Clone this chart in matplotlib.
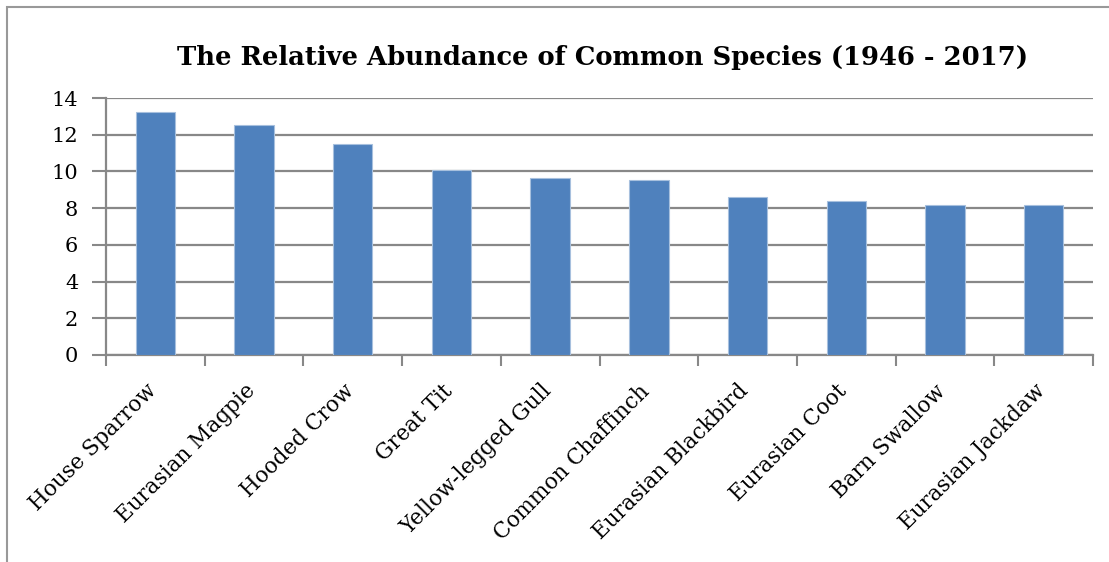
import matplotlib.pyplot as plt
import matplotlib.transforms as mtransforms
from matplotlib.patches import Rectangle

# species and relative abundance
species = ['House Sparrow', 'Eurasian Magpie', 'Hooded Crow', 'Great Tit',
           'Yellow-legged Gull', 'Common Chaffinch', 'Eurasian Blackbird',
           'Eurasian Coot', 'Barn Swallow', 'Eurasian Jackdaw']
abundance = [13.22, 12.53, 11.47, 10.08, 9.66, 9.53, 8.61, 8.39, 8.17, 8.15]
yticks = [0, 2, 4, 6, 8, 10, 12, 14]

plt.rcParams['font.family'] = ['DejaVu Serif']

fig = plt.figure(figsize=(11.09, 5.62), dpi=100)
ax = fig.add_axes([106/1109, 1 - 355/562, (1093 - 106)/1109, (355 - 98)/562])

grey = '#888888'
x = range(len(species))
ax.bar(x, abundance, width=0.4, color='#4F81BD', edgecolor='#A7C0DE',
       linewidth=0.8, zorder=3)

ax.set_xlim(-0.5, len(species) - 0.5)
ax.set_ylim(0, 14)
ax.set_yticks(yticks)
ax.tick_params(axis='y', labelsize=15, length=10, width=1.5, color=grey,
               pad=10, direction='out')
ax.grid(axis='y', color=grey, linewidth=1.6, zorder=0)

# ticks between categories, labels at the bar centres
ax.set_xticks([i - 0.5 for i in range(len(species) + 1)])
ax.set_xticklabels([])
ax.set_xticks(list(x), minor=True)
ax.set_xticklabels(species, minor=True, rotation=45, ha='right',
                   rotation_mode='anchor', fontsize=15.5)
ax.tick_params(axis='x', which='minor', length=0, pad=18)
ax.tick_params(axis='x', which='major', length=8, width=1.5, color=grey)

# nudge the slanted labels a little to the left
shift = mtransforms.ScaledTranslation(-0.1, 0, fig.dpi_scale_trans)
for lbl in ax.get_xticklabels(minor=True):
    lbl.set_transform(lbl.get_transform() + shift)

for side in ['top', 'right']:
    ax.spines[side].set_visible(False)
for side in ['left', 'bottom']:
    ax.spines[side].set_color(grey)
    ax.spines[side].set_linewidth(1.6)

fig.text(603/1109, 1 - 57/562, 'The Relative Abundance of Common Species (1946 - 2017)',
         ha='center', va='center', fontsize=18.6, fontweight='bold')

# chart frame
fig.patches.append(Rectangle((7/1109, -0.1), 1.2, 1 - 7/562 + 0.1,
                             transform=fig.transFigure, fill=False,
                             edgecolor='#999999', linewidth=1.5))

plt.savefig('out.png', dpi=100)
